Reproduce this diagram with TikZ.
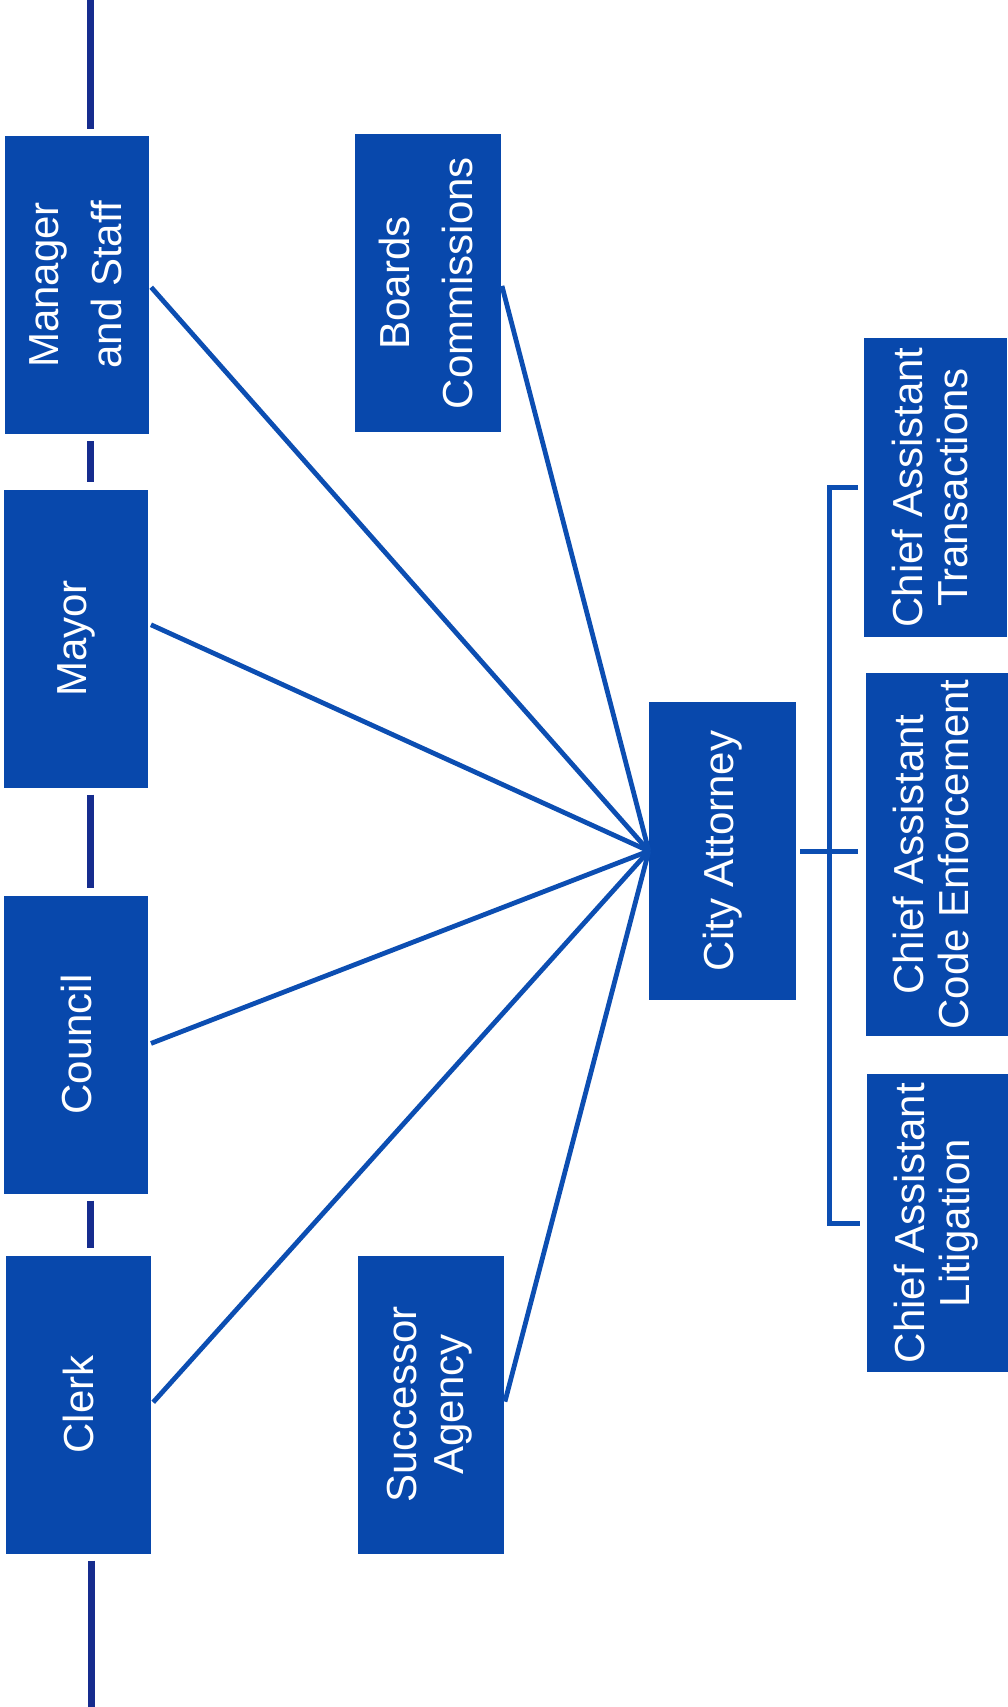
\documentclass[tikz,border=0pt]{standalone}
\usepackage{fontspec}
\setmainfont{Liberation Sans}
\definecolor{boxblue}{RGB}{8,72,172}
\definecolor{linkblue}{RGB}{12,78,178}
\definecolor{spineblue}{RGB}{22,44,142}
\newcommand{\twolines}[3]{\rotatebox{90}{\fontsize{42}{#1}\selectfont\begin{tabular}{@{}c@{}}#2\\#3\end{tabular}}}
\newcommand{\oneline}[1]{\rotatebox{90}{#1}}
\begin{document}
\begin{tikzpicture}[x=1pt,y=-1pt,
  orgbox/.style={fill=boxblue, draw=none, inner sep=0pt, text=white,
    font=\fontsize{42}{47}\selectfont, minimum width=144pt, minimum height=298pt, anchor=center},
  link/.style={draw=linkblue, line width=4.8pt, shorten >=3pt},
  spine/.style={draw=spineblue, line width=7.5pt, shorten <=7pt, shorten >=7pt},
  bus/.style={draw=linkblue, line width=5pt, line join=miter}]
\useasboundingbox (0,0) rectangle (1008,1707);

\node[orgbox] (mgr) at (77,285) {\twolines{63}{Manager}{and Staff}};
\node[orgbox] (mayor) at (76,638.5) {\oneline{Mayor}};
\node[orgbox] (council) at (76,1044.5) {\oneline{Council}};
\node[orgbox, minimum width=145pt] (clerk) at (78.5,1404.5) {\oneline{Clerk}};
\node[orgbox, minimum width=146pt] (boards) at (428,283) {\twolines{63}{Boards}{Commissions}};
\node[orgbox, minimum width=146pt] (succ) at (431,1404.5) {\twolines{47}{Successor}{Agency}};
\node[orgbox, minimum width=147pt] (att) at (722.5,851) {\oneline{City Attorney}};
\node[orgbox, minimum width=143pt, minimum height=299pt] (trans) at (935.5,487.5) {\twolines{45}{Chief Assistant}{Transactions}};
\node[orgbox, minimum width=142pt, minimum height=363pt] (code) at (937,854.5) {\twolines{45}{Chief Assistant}{Code Enforcement}};
\node[orgbox, minimum width=141pt] (lit) at (937.5,1223) {\twolines{45}{Chief Assistant}{Litigation}};

% spine
\coordinate (stop) at (90.5,0);
\coordinate (sbot) at (91.5,1707);
\draw[spine, shorten <=0pt] (stop) -- (stop |- mgr.north);
\draw[spine] (mgr.south -| stop) -- (mayor.north -| stop);
\draw[spine] (mayor.south -| stop) -- (council.north -| stop);
\draw[spine] (council.south -| stop) -- (clerk.north -| stop);
\draw[spine, shorten >=0pt] (clerk.south -| sbot) -- (sbot);

% links to city attorney
\foreach \n in {mgr,council,clerk,boards,succ}
  \draw[link] (att.west) -- (\n.east);
\draw[link] (att.west) -- ([yshift=15pt]mayor.east);

% bracket to chief assistants
\coordinate (busx) at (829,0);
\draw[bus, shorten <=6pt, shorten >=7pt] (trans.west) -| (busx |- lit.west) -- (lit.west);
\draw[bus, shorten <=4pt, shorten >=8pt] (att.east) -- (att.east -| code.west);
\end{tikzpicture}
\end{document}
